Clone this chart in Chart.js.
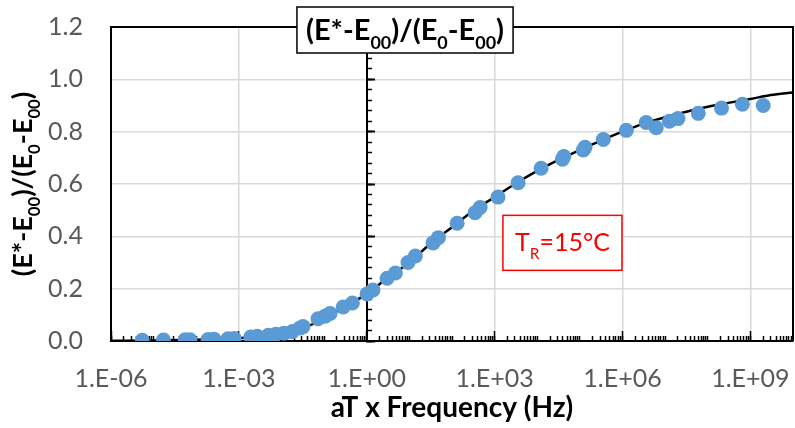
<!DOCTYPE html>
<html lang="en">
<head>
<meta charset="UTF-8">
<title>Normalized modulus master curve</title>
<script src="https://cdn.jsdelivr.net/npm/chart.js"></script>
<style>
  html, body { margin: 0; padding: 0; background: #fff; }
  .wrap { width: 795px; height: 428px; position: relative; }
</style>
</head>
<body>
<div class="wrap"><canvas id="master"></canvas></div>
<script>
// measured points: reduced frequency (Hz) vs normalized modulus
const freqHz = [5.4e-6, 1.7e-5, 5.5e-5, 7.1e-5, 1.9e-4, 2.6e-4, 5.6e-4, 7.8e-4, 1.9e-3, 2.7e-3,
  4.9e-3, 7.4e-3, 1.15e-2, 1.8e-2, 2.75e-2, 3.2e-2, 7.2e-2, 0.105, 0.138, 0.28,
  0.46, 1.02, 1.4, 3.0, 4.7, 9.3, 13.8, 36, 48, 132,
  347, 457, 1200, 3550, 12300, 38900, 42000, 120000, 132000, 355000,
  1.23e6, 3.6e6, 6.2e6, 1.26e7, 2.0e7, 6.0e7, 2.1e8, 6.5e8, 2.0e9];
const ratio = [0.003, 0.004, 0.005, 0.005, 0.006, 0.007, 0.009, 0.010, 0.015, 0.018,
  0.022, 0.026, 0.030, 0.036, 0.050, 0.055, 0.085, 0.095, 0.105, 0.130,
  0.145, 0.180, 0.195, 0.240, 0.260, 0.300, 0.325, 0.375, 0.395, 0.450,
  0.490, 0.510, 0.550, 0.605, 0.660, 0.695, 0.705, 0.730, 0.740, 0.770,
  0.805, 0.835, 0.815, 0.840, 0.850, 0.870, 0.890, 0.905, 0.900];

// fitted sigmoid (black line)
const fitFreqHz = [1e-6, 1e-5, 1e-4, 1e-3, 1e-2, 3e-2, 0.1, 0.3, 1, 3,
  10, 30, 100, 300, 1e3, 3e3, 1e4, 3e4, 1e5, 3e5,
  1e6, 3e6, 1e7, 3e7, 1e8, 3e8, 1e9, 3e9, 1e10];
const fitRatio = [0.001, 0.002, 0.005, 0.011, 0.027, 0.048, 0.085, 0.13, 0.18, 0.24,
  0.30, 0.37, 0.435, 0.495, 0.55, 0.60, 0.65, 0.69, 0.73, 0.765,
  0.80, 0.83, 0.855, 0.875, 0.895, 0.91, 0.925, 0.94, 0.95];

const xTickVals = [1e-6, 1e-3, 1, 1e3, 1e6, 1e9];
const xTickLabels = ['1.E-06', '1.E-03', '1.E+00', '1.E+03', '1.E+06', '1.E+09'];
const yTickVals = [0, 0.2, 0.4, 0.6, 0.8, 1.0, 1.2];
const yTickLabels = ['0.0', '0.2', '0.4', '0.6', '0.8', '1.0', '1.2'];
const yMinorStep = 0.04;

const FONT = 'Lato';
const BLUE = '#5B9BD5';

// 1..9 x 10^n minor ticks for the log axis
const xMinorVals = [];
for (let e = -6; e < 10; e++) {
  for (let m = 1; m < 10; m++) xMinorVals.push(Number(m + 'e' + e));
}
const yMinorVals = [];
for (let i = 0; i <= Math.round(1.2 / yMinorStep); i++) yMinorVals.push(+(i * yMinorStep).toFixed(2));

function drawRuns(ctx, runs, x, y, size, weight) {
  ctx.textAlign = 'left';
  ctx.textBaseline = 'alphabetic';
  for (const [t, sub] of runs) {
    const s = sub ? size * 0.62 : size;
    ctx.font = weight + ' ' + s + 'px ' + FONT;
    ctx.fillText(t, x, sub ? y + size * 0.3 : y);
    x += ctx.measureText(t).width;
  }
}
function runsWidth(ctx, runs, size, weight) {
  let w = 0;
  for (const [t, sub] of runs) {
    ctx.font = weight + ' ' + (sub ? size * 0.62 : size) + 'px ' + FONT;
    w += ctx.measureText(t).width;
  }
  return w;
}

const titleRuns = [['(E*-E'], ['00', 1], [')/(E'], ['0', 1], ['-E'], ['00', 1], [')']];
const tempRuns = [['T'], ['R', 1], ['=15°C']];

const decorations = {
  id: 'decorations',
  beforeDatasetsDraw(chart) {
    const {ctx, chartArea: a} = chart;
    ctx.save();
    ctx.strokeStyle = '#000';
    ctx.lineWidth = 2;
    ctx.beginPath();
    ctx.moveTo(a.left - 1, a.top);
    ctx.lineTo(a.right, a.top);
    ctx.lineTo(a.right, a.bottom);
    ctx.stroke();

    // y axis title, rotated, with subscripts
    const ys = 27;
    const yw = runsWidth(ctx, titleRuns, ys, 'bold');
    ctx.translate(32, (a.top + a.bottom) / 2);
    ctx.rotate(-Math.PI / 2);
    ctx.fillStyle = '#000';
    drawRuns(ctx, titleRuns, -yw / 2, 0, ys, 'bold');
    ctx.restore();
  },
  afterDraw(chart) {
    const {ctx, scales} = chart;
    ctx.save();
    // boxed title
    const ts = 29;
    const tw = runsWidth(ctx, titleRuns, ts, 'bold');
    const cx = 405;
    ctx.fillStyle = '#fff';
    ctx.strokeStyle = '#000';
    ctx.lineWidth = 1.5;
    ctx.fillRect(cx - tw / 2 - 9, 7, tw + 18, 46);
    ctx.strokeRect(cx - tw / 2 - 9, 7, tw + 18, 46);
    ctx.fillStyle = '#000';
    drawRuns(ctx, titleRuns, cx - tw / 2, 40, ts, 'bold');

    // reference temperature box
    const rs = 25;
    const rw = runsWidth(ctx, tempRuns, rs, 'normal');
    const px = scales.x.getPixelForValue(3.9e4);
    const py = scales.y.getPixelForValue(0.377);
    ctx.fillStyle = '#fff';
    ctx.strokeStyle = '#ff0000';
    ctx.fillRect(px - rw / 2 - 12, py - 27, rw + 24, 55);
    ctx.strokeRect(px - rw / 2 - 12, py - 27, rw + 24, 55);
    ctx.fillStyle = '#ff0000';
    drawRuns(ctx, tempRuns, px - rw / 2, py + 9, rs, 'normal');
    ctx.restore();
  }
};

const tickOnly = (len, width) => ({
  drawOnChartArea: false, drawTicks: true, tickLength: len, tickColor: '#000', tickWidth: width
});

new Chart(document.getElementById('master'), {
  type: 'scatter',
  data: {
    datasets: [
      {
        label: 'Measured',
        data: freqHz.map((f, i) => ({x: f, y: ratio[i]})),
        backgroundColor: BLUE,
        borderWidth: 0,
        pointRadius: 7.5,
        order: 1
      },
      {
        label: 'Sigmoid fit',
        data: fitFreqHz.map((f, i) => ({x: f, y: fitRatio[i]})),
        showLine: true,
        borderColor: '#000',
        borderWidth: 2.5,
        pointRadius: 0,
        cubicInterpolationMode: 'monotone',
        order: 2
      }
    ]
  },
  options: {
    responsive: true,
    maintainAspectRatio: false,
    animation: false,
    layout: { autoPadding: false, padding: { top: 27, right: 2, left: 0, bottom: 0 } },
    plugins: { legend: { display: false }, tooltip: { enabled: false } },
    scales: {
      x: {
        type: 'logarithmic',
        position: 'bottom',
        min: 1e-6,
        max: 1e10,
        afterBuildTicks: s => { s.ticks = xTickVals.map(v => ({value: v})); },
        afterFit: s => { s.height = 87; s.paddingLeft = 0; s.paddingRight = 0; },
        ticks: {
          autoSkip: false, maxRotation: 0, padding: 3, color: '#595959',
          font: { family: FONT, size: 25 },
          callback: (v, i) => xTickLabels[i]
        },
        grid: { color: '#d9d9d9', lineWidth: 1.5, drawTicks: true, tickLength: 20, tickColor: 'rgba(0,0,0,0)' },
        border: { color: '#000', width: 2 },
        title: {
          display: true, text: 'aT x Frequency (Hz)', color: '#000',
          font: { family: FONT, size: 28, weight: 'bold' },
          padding: { top: 0, bottom: 3 }
        }
      },
      xMinor: {
        type: 'logarithmic', axis: 'x', position: { y: 0 }, min: 1e-6, max: 1e10,
        afterBuildTicks: s => { s.ticks = xMinorVals.map(v => ({value: v})); },
        ticks: { display: false, autoSkip: false },
        grid: tickOnly(-5, 1.5),
        border: { display: false }
      },
      xMajor: {
        type: 'logarithmic', axis: 'x', position: { y: 0 }, min: 1e-6, max: 1e10,
        afterBuildTicks: s => { s.ticks = xTickVals.map(v => ({value: v})); },
        ticks: { display: false, autoSkip: false },
        grid: tickOnly(-10, 1.5),
        border: { display: false }
      },
      y: {
        type: 'linear',
        position: 'left',
        min: 0,
        max: 1.2,
        afterBuildTicks: s => { s.ticks = yTickVals.map(v => ({value: v})); },
        afterFit: s => { s.width = 111; s.paddingTop = 0; s.paddingBottom = 0; },
        ticks: {
          autoSkip: false, padding: 3, color: '#595959',
          font: { family: FONT, size: 25 },
          callback: (v, i) => yTickLabels[i]
        },
        grid: { color: '#d9d9d9', lineWidth: 1.5, drawTicks: true, tickLength: 25, tickColor: 'rgba(0,0,0,0)' },
        border: { color: '#000', width: 2 }
      },
      yMajor: {
        type: 'linear', axis: 'y', position: { x: 1 }, min: 0, max: 1.2,
        afterBuildTicks: s => { s.ticks = yTickVals.map(v => ({value: v})); },
        ticks: { display: false, autoSkip: false },
        grid: tickOnly(-9, 2),
        border: { display: true, color: '#000', width: 2 }
      },
      yMinor: {
        type: 'linear', axis: 'y', position: { x: 1 }, min: 0, max: 1.2,
        afterBuildTicks: s => { s.ticks = yMinorVals.map(v => ({value: v})); },
        ticks: { display: false, autoSkip: false },
        grid: tickOnly(-5, 1.5),
        border: { display: false }
      }
    }
  },
  plugins: [decorations]
});
</script>
</body>
</html>
